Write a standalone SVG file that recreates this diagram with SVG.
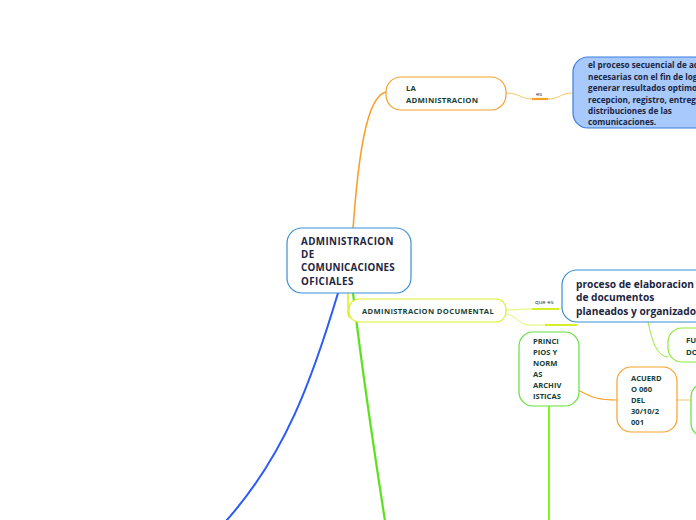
<svg xmlns="http://www.w3.org/2000/svg" width="696" height="520" viewBox="0 0 696 520">
<style>
.t{font-family:"Open Sans","Noto Sans","Liberation Sans",sans-serif;font-weight:bold;}
.lbl{font-family:"Open Sans","Noto Sans","Liberation Sans",sans-serif;font-weight:normal;fill:#333333;font-size:6px;}
.dk{fill:#173f35;}
.nv{fill:#1c2541;}
.c{fill:none;stroke-linecap:round;}
</style>
<rect width="696" height="520" fill="#ffffff"/>
<g id="connectors">
<path class="c" d="M353,229 C358,160 366,96 386,92" stroke="#f7a12a" stroke-width="1.6"/>
<path class="c" d="M506,93 C520,93 520,99 532,99 L548,99 C560,99 560,93 573,93" stroke="#fbc56a" stroke-width="1"/>
<path d="M532,99 L548,99" stroke="#f7a12a" stroke-width="2.2"/>
<path class="c" d="M338,293 C312,380 285,455 226,521" stroke="#2a5cf5" stroke-width="2"/>
<path class="c" d="M353,293 C362,370 374,450 385,521" stroke="#5be11e" stroke-width="2.2"/>
<path class="c" d="M348,293 L348,312 C348,316 350,318 352,318" stroke="#dbf02a" stroke-width="1.6"/>
<path class="c" d="M506,310 C518,310 518,309 532,309 L559,309 C563,309 563,305 565,301" stroke="#e2f56a" stroke-width="1"/>
<path d="M532,309 L559,309" stroke="#d4ee2a" stroke-width="2"/>
<path class="c" d="M506,314 C518,316 518,325 530,325 L577,325" stroke="#e2f56a" stroke-width="1"/>
<path d="M545,325 L577,325" stroke="#d4ee2a" stroke-width="2"/>
<path class="c" d="M648,322 C652,340 656,356 668,357" stroke="#9be83a" stroke-width="1"/>
<path class="c" d="M549,406 L549,521" stroke="#7ef51e" stroke-width="2"/>
<path class="c" d="M578,390 C592,398 600,400 617,400" stroke="#f7a12a" stroke-width="1.2"/>
<path class="c" d="M677,400 L692,400" stroke="#fbc56a" stroke-width="1.2"/>
</g>
<g id="central">
<rect x="287" y="228" width="124" height="65" rx="15" fill="#ffffff" stroke="#3a8fd6" stroke-width="1.2"/>
<text class="t nv" font-size="9.8" x="301" y="245" letter-spacing="0.4">ADMINISTRACION</text>
<text class="t nv" font-size="9.8" x="301" y="258" letter-spacing="0.4">DE</text>
<text class="t nv" font-size="9.8" x="301" y="271" letter-spacing="0.2">COMUNICACIONES</text>
<text class="t nv" font-size="9.8" x="301" y="285" letter-spacing="0.4">OFICIALES</text>
</g>
<g id="la-administracion">
<rect x="386" y="77" width="120" height="33" rx="15" fill="#ffffff" stroke="#f7a12a" stroke-width="1.2"/>
<text class="t dk" font-size="7.8" x="406" y="91">LA</text>
<text class="t dk" font-size="7.8" x="406" y="103" letter-spacing="0.2">ADMINISTRACION</text>
</g>
<g id="es-label">
<text class="lbl" x="536" y="96">es</text>
</g>
<g id="definicion">
<rect x="573" y="57" width="140" height="71" rx="15" fill="#a7c9fb" stroke="#3b7de0" stroke-width="1.2"/>
<text class="t nv" font-size="8.2" x="588" y="68">el proceso secuencial de ac</text>
<text class="t nv" font-size="8.2" x="588" y="80">necesarias con el fin de log</text>
<text class="t nv" font-size="8.2" x="588" y="91">generar resultados optimos</text>
<text class="t nv" font-size="8.2" x="588" y="103">recepcion, registro, entrega</text>
<text class="t nv" font-size="8.2" x="588" y="114">distribuciones de las</text>
<text class="t nv" font-size="8.2" x="588" y="125">comunicaciones.</text>
</g>
<g id="administracion-documental">
<rect x="349" y="299" width="157" height="23" rx="10" fill="#ffffff" stroke="#dbf02a" stroke-width="1.2"/>
<text class="t dk" font-size="7.6" x="362" y="314" letter-spacing="0.35">ADMINISTRACION DOCUMENTAL</text>
</g>
<g id="que-es-label">
<text class="lbl" x="535" y="304">que es</text>
</g>
<g id="proceso">
<rect x="562" y="270" width="150" height="52" rx="15" fill="#ffffff" stroke="#3a8fd6" stroke-width="1.2"/>
<text class="t nv" font-size="10.2" x="576" y="288">proceso de elaboracion</text>
<text class="t nv" font-size="10.2" x="576" y="301">de documentos</text>
<text class="t nv" font-size="10.2" x="576" y="315">planeados y organizados</text>
</g>
<g id="fu-do">
<rect x="668" y="328" width="50" height="34" rx="14" fill="#ffffff" stroke="#8ee83a" stroke-width="1.2"/>
<text class="t dk" font-size="7.8" x="686" y="343">FU</text>
<text class="t dk" font-size="7.8" x="686" y="355">DO</text>
</g>
<g id="principios">
<rect x="519" y="332" width="60" height="74" rx="14" fill="#ffffff" stroke="#66e03a" stroke-width="1.2"/>
<text class="t dk" font-size="7.6" x="533" y="344">PRINCI</text>
<text class="t dk" font-size="7.6" x="533" y="355">PIOS Y</text>
<text class="t dk" font-size="7.6" x="533" y="366">NORM</text>
<text class="t dk" font-size="7.6" x="533" y="377">AS</text>
<text class="t dk" font-size="7.6" x="533" y="388">ARCHIV</text>
<text class="t dk" font-size="7.6" x="533" y="399">ISTICAS</text>
</g>
<g id="acuerdo">
<rect x="617" y="367" width="60" height="65" rx="14" fill="#ffffff" stroke="#f7a12a" stroke-width="1.2"/>
<text class="t dk" font-size="7.6" x="631" y="381">ACUERD</text>
<text class="t dk" font-size="7.6" x="631" y="392">O 060</text>
<text class="t dk" font-size="7.6" x="631" y="403">DEL</text>
<text class="t dk" font-size="7.6" x="631" y="414">30/10/2</text>
<text class="t dk" font-size="7.6" x="631" y="425">001</text>
</g>
<g id="green-partial">
<rect x="691" y="383" width="50" height="54" rx="14" fill="#ffffff" stroke="#66e03a" stroke-width="1.2"/>
</g>
</svg>
